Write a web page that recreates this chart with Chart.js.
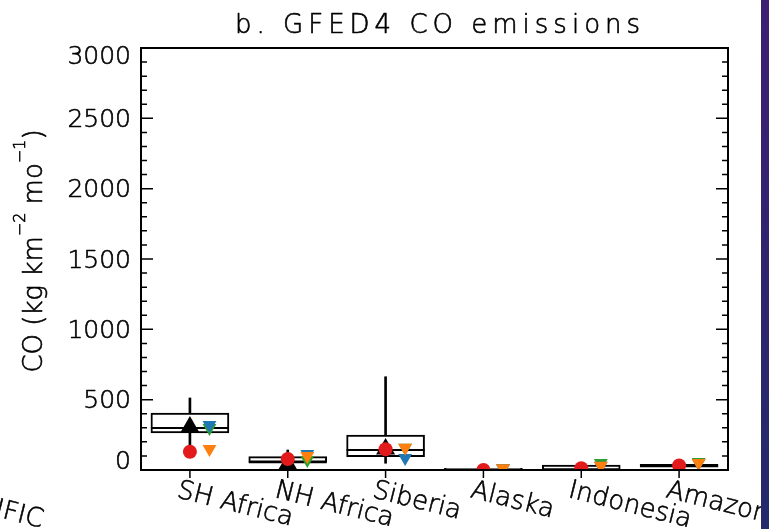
<!DOCTYPE html>
<html>
<head>
<meta charset="utf-8">
<script src="https://cdn.jsdelivr.net/npm/chart.js@4.4.0/dist/chart.umd.min.js"></script>
<style>
html, body { margin: 0; padding: 0; background: #fff; overflow: hidden; }
#wrap { position: relative; width: 769px; height: 529px; }
#strip { position: absolute; left: 761px; top: 0; width: 8px; height: 529px; background: linear-gradient(#3d1f72, #232a6c); }
</style>
</head>
<body>
<div id="wrap"><canvas id="co-chart"></canvas><div id="strip"></div></div>
<script>
const regions = ['SH Africa', 'NH Africa', 'Siberia', 'Alaska', 'Indonesia', 'Amazon']
const y_labels = [0, 500, 1000, 1500, 2000, 2500, 3000]

// boxes (kg km-2 mo-1)
const box_low = [263, 55, 95, 0, 0, 20]
const box_mid = [299, 55, 142, 0, 0, 30]
const box_high = [405, 95, 249, 12, 35, 40]
const whisk_low = [135, 55, 48, null, null, null]
const whisk_high = [512, 142, 663, null, null, null]

// markers
const black_up = [305, 40, 150, null, null, null]
const red_dot = [130, 78, 147, 0, 12, 32]
const green_down = [299, 71, 158, 12, 50, 57]
const blue_down = [320, 114, 85, 12, 31, 50]
const orange_down = [150, 100, 158, 12, 31, 50]

const SHIFT = 0.2   // down triangles sit a bit right of the box centre
const FONT = '"DejaVu Sans", sans-serif'

function pairs(lo, hi) {
    return lo.map((v, i) => v == null ? null : [v, hi[i]])
}

function shifted(vals) {
    return vals.map((v, i) => ({x: i + SHIFT, y: v}))
}

function marker(vals, style, color, r, rot, order, axis) {
    return {
        type: 'line',
        data: axis ? shifted(vals) : vals,
        xAxisID: axis || 'x',
        showLine: false,
        pointStyle: style,
        pointRadius: r,
        pointHoverRadius: r,
        pointRotation: rot,
        pointBackgroundColor: color,
        pointBorderColor: color,
        pointBorderWidth: style === 'line' ? 2 : 0,
        clip: 0,
        order: order
    }
}

// thin font, thickened a little so it looks like the IDL vector font
function txt(c, s, x, y) {
    c.fillText(s, x, y)
    c.strokeText(s, x, y)
}

const frame_plugin = {
    id: 'frame',
    afterDraw(chart) {
        const c = chart.ctx
        const a = chart.chartArea
        const ys = chart.scales.y
        const xs = chart.scales.x
        c.save()
        c.strokeStyle = '#000'
        c.fillStyle = '#000'

        // ticks, IDL style
        c.lineWidth = 1.5
        c.beginPath()
        for (let v = 0; v <= 3000; v += 100) {
            let py = ys.getPixelForValue(v)
            let len = v % 500 === 0 ? 12 : 6
            c.moveTo(a.left, py); c.lineTo(a.left + len, py)
            c.moveTo(a.right, py); c.lineTo(a.right - len, py)
        }
        regions.forEach((r, i) => {
            let px = xs.getPixelForValue(i)
            c.moveTo(px, a.bottom); c.lineTo(px, a.bottom + 8)
        })
        c.stroke()

        c.lineWidth = 2
        c.strokeRect(a.left, a.top, a.right - a.left, a.bottom - a.top)

        c.lineWidth = 0.6
        c.lineJoin = 'round'

        // y tick labels
        c.font = '200 25px ' + FONT
        c.textAlign = 'right'
        c.textBaseline = 'middle'
        y_labels.forEach(v => {
            let py = ys.getPixelForValue(v) + 2
            if (v === 3000) py = a.top + 9
            if (v === 0) py = a.bottom - 8
            txt(c, String(v), 131, py)
        })

        // x labels, slanted down to the right
        c.textAlign = 'left'
        c.textBaseline = 'alphabetic'
        c.letterSpacing = '0px'
        c.font = '200 26px ' + FONT
        regions.forEach((r, i) => {
            let px = xs.getPixelForValue(i)
            c.save()
            c.translate(px - 14, a.bottom + 27)
            c.rotate(14 * Math.PI / 180)
            txt(c, r, 0, 0)
            c.restore()
        })

        // piece of the neighbouring panel label
        c.save()
        c.translate(-6, 516)
        c.rotate(14 * Math.PI / 180)
        txt(c, 'IFIC', 0, 0)
        c.restore()

        // title
        c.letterSpacing = '5px'
        c.font = '200 26px ' + FONT
        txt(c, 'b. GFED4 CO emissions', 235, 33)

        // y title with superscripts
        c.letterSpacing = '0px'
        const parts = [['CO (kg km', false], ['\u22122', true], [' mo', false], ['\u22121', true], [')', false]]
        const big = '200 26px ' + FONT
        const small = '200 16px ' + FONT
        let total = 0
        parts.forEach(p => { c.font = p[1] ? small : big; total += c.measureText(p[0]).width })
        c.translate(42, (a.top + a.bottom) / 2 - 8)
        c.rotate(-Math.PI / 2)
        let tx = -total / 2
        parts.forEach(p => {
            c.font = p[1] ? small : big
            txt(c, p[0], tx, p[1] ? -17 : 0)
            tx += c.measureText(p[0]).width
        })
        c.restore()
    }
}

let ctx = document.getElementById('co-chart')

let my_chart = new Chart(ctx, {
    type: 'bar',
    data: {
        labels: regions,
        datasets: [
            {
                data: pairs(whisk_low, whisk_high),
                backgroundColor: '#000',
                borderWidth: 0,
                barThickness: 2,
                grouped: false,
                order: 10
            },
            {
                data: pairs(box_low, box_high),
                backgroundColor: '#fff',
                borderColor: '#000',
                borderWidth: 2,
                borderSkipped: false,
                barThickness: 78,
                grouped: false,
                order: 9
            },
            marker(box_mid, 'line', '#000', 39, 0, 8),
            marker(black_up, 'triangle', '#000', 11, 0, 6),
            marker(red_dot, 'circle', '#e31a1c', 7, 0, 5),
            marker(green_down, 'triangle', '#2ca02c', 8, 180, 4, 'xo'),
            marker(blue_down, 'triangle', '#1f77b4', 8, 180, 3, 'xo'),
            marker(orange_down, 'triangle', '#ff7f0e', 8, 180, 2, 'xo')
        ]
    },
    options: {
        responsive: true,
        maintainAspectRatio: false,
        animation: false,
        layout: { padding: { left: 141, right: 41, top: 48, bottom: 59 } },
        plugins: { legend: { display: false }, tooltip: { enabled: false } },
        scales: {
            x: { type: 'category', display: false, offset: true },
            xo: { type: 'linear', axis: 'x', position: 'bottom', display: false, offset: false, grace: 0, bounds: 'ticks', min: -0.5, max: 5.5 },
            y: { display: false, min: 0, max: 3000 }
        }
    },
    plugins: [frame_plugin]
})
</script>
</body>
</html>
